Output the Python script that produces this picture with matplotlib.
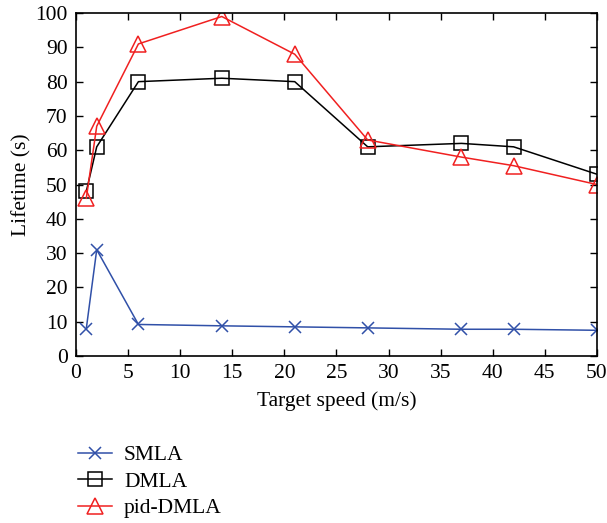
import matplotlib.pyplot as plt

plt.rcParams['font.family'] = ['Liberation Serif', 'DejaVu Serif']

# Target speeds (m/s)
speed = [1, 2, 6, 14, 21, 28, 37, 42, 50]

# Lifetime (s) per method
smla = [8, 31, 9.2, 8.8, 8.5, 8.2, 7.8, 7.8, 7.5]
dmla = [48, 61, 80, 81, 80, 61, 62, 61, 53]
pid_dmla = [46, 67, 91, 99, 88, 63, 58, 55.5, 50]

fig = plt.figure(figsize=(6.07, 5.23), dpi=100)
ax = fig.add_axes([0.125, 0.3193, 0.8585, 0.6557])

ax.plot(speed, smla, color='#3050a8', lw=1.1, marker='x', ms=8,
        mew=1.1, label='SMLA')
ax.plot(speed, dmla, color='black', lw=1.1, marker='s', ms=10,
        mfc='none', mew=1.1, label='DMLA')
ax.plot(speed, pid_dmla, color='#f02020', lw=1.1, marker='^', ms=12,
        mfc='none', mew=1.1, label='pid-DMLA')

ax.set_xlim(0, 50)
ax.set_ylim(0, 100)
ax.set_xticks(range(0, 51, 5))
ax.set_yticks(range(0, 101, 10))
ax.tick_params(direction='in', top=True, right=True, length=5,
               labelsize=15.5, width=1, pad=6)
for s in ax.spines.values():
    s.set_linewidth(1.2)

ax.set_xlabel('Target speed (m/s)', fontsize=15.5, labelpad=6)
ax.set_ylabel('Lifetime (s)', fontsize=15.5, labelpad=3)

fig.legend(loc='upper left', bbox_to_anchor=(0.128, 0.149), frameon=False,
           fontsize=15.5, handlelength=1.6, handletextpad=0.55,
           labelspacing=0.3, borderaxespad=0, borderpad=0)

fig.savefig('out.png', dpi=100)
